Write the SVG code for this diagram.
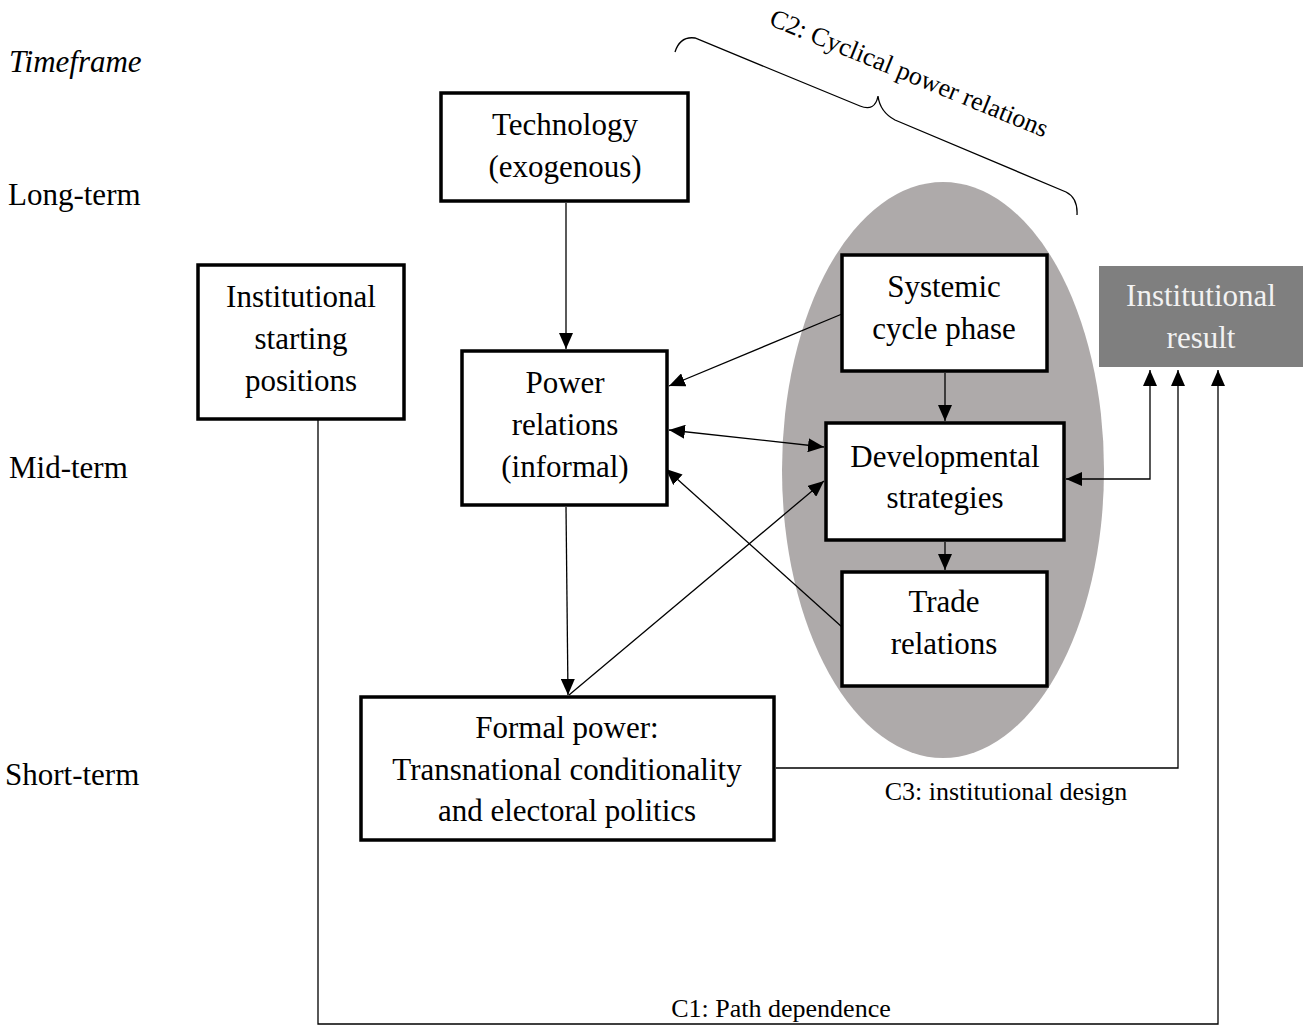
<svg xmlns="http://www.w3.org/2000/svg" width="1303" height="1026" viewBox="0 0 1303 1026">
<defs>
<marker id="arr" markerUnits="userSpaceOnUse" markerWidth="17" markerHeight="14" refX="16" refY="7" orient="auto-start-reverse" viewBox="0 0 17 14">
<path d="M0,0 L16,7 L0,14 z" fill="#000"/>
</marker>
<style>
text{font-family:"Liberation Serif","Times New Roman",serif;fill:#000}
.t{font-size:31px;text-anchor:middle}
.lab{font-size:31px}
.s{font-size:26px}
.box{fill:#fff;stroke:#000;stroke-width:3.5}
.c{fill:none;stroke:#000;stroke-width:1.3}
.ca{fill:none;stroke:#000;stroke-width:1.3;marker-end:url(#arr)}
.cb{fill:none;stroke:#000;stroke-width:1.3;marker-end:url(#arr);marker-start:url(#arr)}
</style>
</defs>
<rect width="1303" height="1026" fill="#fff"/>

<g id="timeframe-labels">
<text class="lab" x="9" y="72" font-style="italic">Timeframe</text>
<text class="lab" x="8" y="205">Long-term</text>
<text class="lab" x="9" y="478">Mid-term</text>
<text class="lab" x="5" y="785">Short-term</text>
</g>

<g id="cycle-ellipse">
<ellipse cx="943" cy="470" rx="161" ry="288" fill="#aeaaaa"/>
</g>

<g id="brace-c2">
<path class="c" d="M675,52 Q680,36 695,38 L860,106 Q875,112 878,96 Q880,112 895,120 L1066,192 Q1078,198 1077,215"/>
<text class="s" x="906" y="81" text-anchor="middle" transform="rotate(22.3 906 81)">C2: Cyclical power relations</text>
</g>

<g id="connectors">
<path class="ca" d="M566,203 L566,349"/>
<path class="ca" d="M842,314 L669,386"/>
<path class="cb" d="M669,430 L824,447"/>
<path class="ca" d="M842,627 L666,469"/>
<path class="ca" d="M566,507 L568,695"/>
<path class="ca" d="M569,695 L824,481"/>
<path class="ca" d="M945,373 L945,421"/>
<path class="ca" d="M945,542 L945,570"/>
<path class="cb" d="M1066,479 L1150,479 L1150,370"/>
<path class="ca" d="M776,768 L1178,768 L1178,370"/>
<path class="ca" d="M318,420 L318,1024 L1218,1024 L1218,370"/>
<text class="s" x="1006" y="800" text-anchor="middle">C3: institutional design</text>
<text class="s" x="781" y="1017" text-anchor="middle">C1: Path dependence</text>
</g>

<g id="technology">
<rect class="box" x="441" y="93" width="247" height="108"/>
<text class="t" x="565" y="135">Technology</text>
<text class="t" x="565" y="177">(exogenous)</text>
</g>

<g id="institutional-starting">
<rect class="box" x="198" y="265" width="206" height="154"/>
<text class="t" x="301" y="307">Institutional</text>
<text class="t" x="301" y="349">starting</text>
<text class="t" x="301" y="391">positions</text>
</g>

<g id="power-relations">
<rect class="box" x="462" y="351" width="205" height="154"/>
<text class="t" x="565" y="393">Power</text>
<text class="t" x="565" y="435">relations</text>
<text class="t" x="565" y="477">(informal)</text>
</g>

<g id="systemic-cycle">
<rect class="box" x="842" y="255" width="205" height="116"/>
<text class="t" x="944" y="297">Systemic</text>
<text class="t" x="944" y="339">cycle phase</text>
</g>

<g id="developmental">
<rect class="box" x="826" y="423" width="238" height="117"/>
<text class="t" x="945" y="467">Developmental</text>
<text class="t" x="945" y="508">strategies</text>
</g>

<g id="trade">
<rect class="box" x="842" y="572" width="205" height="114"/>
<text class="t" x="944" y="612">Trade</text>
<text class="t" x="944" y="654">relations</text>
</g>

<g id="formal-power">
<rect class="box" x="361" y="697" width="413" height="143"/>
<text class="t" x="567" y="738">Formal power:</text>
<text class="t" x="567" y="780">Transnational conditionality</text>
<text class="t" x="567" y="821">and electoral politics</text>
</g>

<g id="institutional-result">
<rect x="1099" y="266" width="204" height="101" fill="#7f7f7f"/>
<text class="t" x="1201" y="306" style="fill:#f2f2f2">Institutional</text>
<text class="t" x="1201" y="348" style="fill:#f2f2f2">result</text>
</g>
</svg>
